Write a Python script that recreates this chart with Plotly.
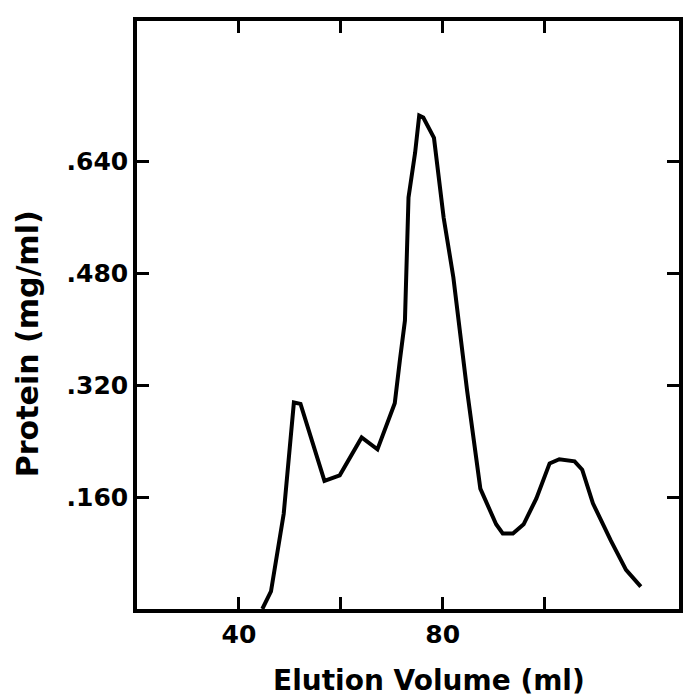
import plotly.graph_objects as go

# Elution profile
elution_ml = [44.6, 46.3, 48.8, 50.8, 52.1, 56.8, 59.8, 64.1, 67.2, 70.6, 71.6,
              72.6, 73.3, 74.6, 75.4, 76.2, 78.3, 80.2, 82.1, 84.8, 87.4, 89.2,
              90.5, 91.8, 93.8, 95.9, 98.4, 101.0, 102.9, 105.9, 107.4, 109.5,
              113.0, 116.0, 118.9]
protein_mg_ml = [0.0, 0.025, 0.136, 0.295, 0.293, 0.183, 0.191, 0.245, 0.228,
                 0.294, 0.355, 0.412, 0.588, 0.652, 0.705, 0.702, 0.673, 0.559,
                 0.474, 0.312, 0.172, 0.141, 0.121, 0.108, 0.108, 0.121, 0.158,
                 0.208, 0.214, 0.211, 0.199, 0.151, 0.098, 0.056, 0.032]

x_tickvals = [40, 60, 80, 100]
x_ticktext = ["40", "", "80", ""]
y_tickvals = [0.16, 0.32, 0.48, 0.64]
y_ticktext = [".160", ".320", ".480", ".640"]

FONT = "DejaVu Sans"

fig = go.Figure()
fig.add_trace(go.Scatter(
    x=elution_ml, y=protein_mg_ml, mode="lines",
    line=dict(color="black", width=4),
    showlegend=False, hoverinfo="skip",
))

axis_common = dict(
    showgrid=False, zeroline=False, showline=True, linecolor="black",
    linewidth=3.5, mirror="ticks", ticks="inside", ticklen=12, tickwidth=3,
    tickcolor="black",
    tickfont=dict(family=FONT, size=25, color="black", weight="bold"),
)

fig.update_xaxes(range=[20, 126.4], tickvals=x_tickvals, ticktext=x_ticktext,
                 **axis_common)
fig.update_yaxes(range=[0, 0.84], tickvals=y_tickvals, ticktext=y_ticktext,
                 **axis_common)

fig.add_annotation(text="Elution Volume (ml)", xref="paper", yref="paper",
                   x=0.538, y=-0.121, showarrow=False,
                   xanchor="center", yanchor="middle",
                   font=dict(family=FONT, size=28, color="black", weight="bold"))
fig.add_annotation(text="Protein (mg/ml)", xref="paper", yref="paper",
                   x=-0.203, y=0.452, showarrow=False, textangle=-90,
                   xanchor="center", yanchor="middle",
                   font=dict(family=FONT, size=30, color="black", weight="bold"))

# the page adds an 8px body margin; offset the figure accordingly
fig.update_layout(
    width=679, height=692,
    margin=dict(l=129, r=4, t=13, b=91),
    plot_bgcolor="white", paper_bgcolor="white",
)

fig.write_html("out.html")
